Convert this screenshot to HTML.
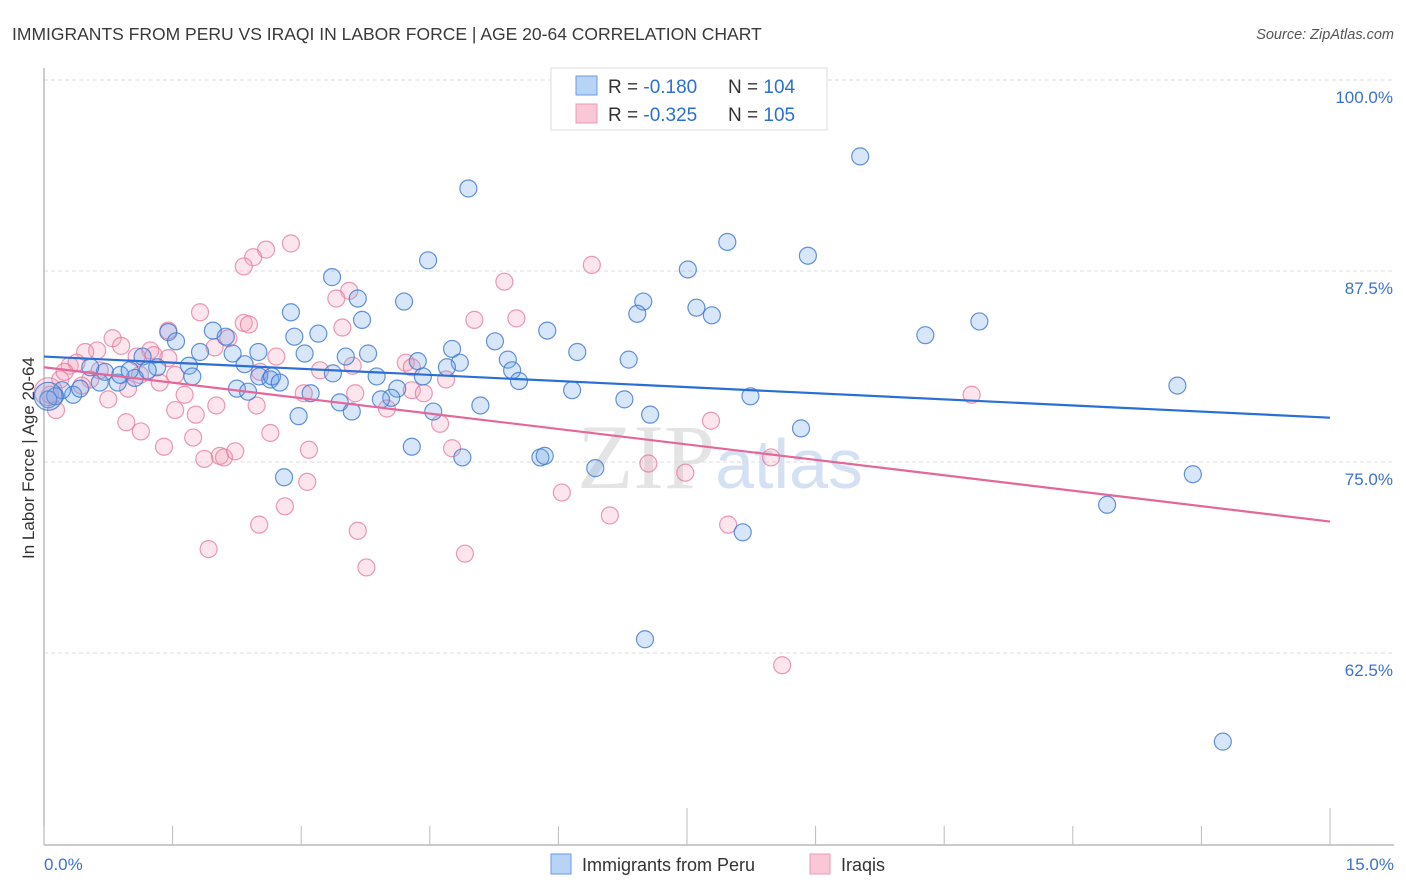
<!DOCTYPE html>
<html><head><meta charset="utf-8"><style>
body{margin:0;background:#fff;font-family:"Liberation Sans",sans-serif;}
#wrap{position:relative;width:1406px;height:892px;overflow:hidden;}
</style></head><body>
<div id="wrap">
<svg id="svg" width="1406" height="892" xmlns="http://www.w3.org/2000/svg">
<text x="12" y="40" font-size="17.5" fill="#3a3a3a">IMMIGRANTS FROM PERU VS IRAQI IN LABOR FORCE | AGE 20-64 CORRELATION CHART</text>
<text x="1394" y="39" font-size="14.5" fill="#555" font-style="italic" text-anchor="end">Source: ZipAtlas.com</text>
<text x="720" y="488" font-size="92" fill="#e4e4e4" text-anchor="middle" font-family="Liberation Serif,serif">ZIP<tspan fill="#d3e1f3" font-family="Liberation Sans,sans-serif" font-size="70">atlas</tspan></text>
<g id="grid"></g>
<line x1="44" y1="68" x2="44" y2="845" stroke="#aaa" stroke-width="1.2"/>
<line x1="44" y1="845" x2="1394" y2="845" stroke="#aaa" stroke-width="1.2"/>
<g id="xticks"></g>
<text x="34" y="458" font-size="17" fill="#333" text-anchor="middle" transform="rotate(-90 34 458)">In Labor Force | Age 20-64</text>
<g id="pts"></g>
<g id="lines"></g>
<text x="44" y="870" font-size="17" fill="#3b72d0">0.0%</text>
<text x="1394" y="870" font-size="17" fill="#3b72d0" text-anchor="end">15.0%</text>
<g>
<rect x="551" y="68" width="276" height="62" fill="#fff" stroke="#ddd"/>
<rect x="576" y="76" width="21" height="19" fill="#b7d3f5" stroke="#6b9be0"/>
<rect x="576" y="104" width="21" height="19" fill="#fac7d6" stroke="#e99ab4"/>
<text x="608" y="93" font-size="19" fill="#333">R = <tspan fill="#2a6fd6">-0.180</tspan><tspan x="728">N = </tspan><tspan fill="#2a6fd6">104</tspan></text>
<text x="608" y="121" font-size="19" fill="#333">R = <tspan fill="#2a6fd6">-0.325</tspan><tspan x="728">N = </tspan><tspan fill="#2a6fd6">105</tspan></text>
</g>
<g>
<rect x="551" y="854" width="20" height="20" fill="#b7d3f5" stroke="#6b9be0"/>
<text x="582" y="871" font-size="18" fill="#333">Immigrants from Peru</text>
<rect x="810" y="854" width="20" height="20" fill="#fac7d6" stroke="#e99ab4"/>
<text x="841" y="871" font-size="18" fill="#333">Iraqis</text>
</g>
</svg>
</div>
<script>
const yTicks=[100,87.5,75,62.5];
const yTickLabels=["100.0%","87.5%","75.0%","62.5%"];
const xTicks=[0,1.5,3,4.5,6,7.5,9,10.5,12,13.5,15];
const peruX=[9.52,4.95,7.97,8.91,4.48,7.51,3.36,6.99,4.20,3.66,2.88,7.61,6.92,7.79,10.91,10.28,3.71,1.97,5.87,3.20,2.92,1.45,2.12,5.26,1.54,4.76,6.22,3.78,6.82,2.50,3.04,3.52,5.41,4.85,4.36,4.70,5.46,1.82,1.69,1.15,2.20,1.32,2.34,5.54,3.88,4.42,13.22,6.16,2.51,2.64,2.25,2.38,3.11,4.12,4.05,3.93,6.77,8.24,5.09,3.45,3.59,4.54,7.07,2.97,8.83,4.29,4.88,5.79,5.84,6.43,13.40,2.80,12.40,8.15,7.01,13.75,1.73,1.06,0.86,0.71,0.54,0.34,0.21,0.13,0.05,0.42,0.65,0.89,1.00,1.21,2.66,2.75,3.37,0.05];
const peruY=[95.0,92.9,89.4,88.5,88.2,87.6,87.1,85.5,85.5,85.7,84.8,85.1,84.7,84.6,84.2,83.3,84.3,83.6,83.6,83.4,83.2,83.5,83.2,82.9,82.9,82.4,82.2,82.1,81.7,82.2,82.1,81.9,81.7,81.5,81.6,81.2,81.0,82.2,81.3,81.9,82.1,81.2,81.4,80.3,80.6,80.6,80.0,79.7,80.6,80.4,79.8,79.6,79.5,79.8,79.2,79.1,79.1,79.3,78.7,78.9,78.3,78.3,78.1,78.0,77.2,76.0,75.3,75.3,75.4,74.6,74.2,74.0,72.2,70.4,63.4,56.7,80.6,80.5,80.2,80.9,81.2,79.4,79.7,79.3,79.1,79.8,80.2,80.7,81.0,81.0,80.6,80.2,80.8,79.3];
const iraqX=[2.88,2.59,2.44,2.33,6.39,5.37,3.56,3.41,1.82,2.33,5.02,5.51,3.48,1.45,2.39,2.15,0.80,1.24,0.90,0.62,2.71,1.45,1.28,1.08,0.48,0.30,0.38,4.22,4.29,3.22,3.60,4.69,4.29,4.43,3.63,4.00,3.03,2.48,1.64,2.01,1.53,1.77,1.35,0.98,0.75,0.96,1.13,4.62,1.40,1.74,4.76,3.09,2.64,2.05,2.10,2.23,1.87,7.78,8.48,7.05,7.48,6.04,2.81,3.07,2.51,3.66,6.60,7.98,4.91,1.92,3.76,10.82,8.61,0.19,0.07,0.24,0.54,0.65,0.44,1.12,1.53,1.99,2.52,0.14,0.05];
const iraqY=[89.3,88.9,88.4,87.8,87.9,86.8,86.2,85.7,84.8,84.1,84.3,84.4,83.8,83.6,84.0,83.1,83.1,82.3,82.6,82.3,81.9,81.8,82.0,81.9,82.2,81.3,81.5,81.5,81.2,81.0,81.3,80.4,79.7,79.5,79.5,78.5,79.5,78.7,79.4,78.7,78.4,78.1,80.2,79.8,79.1,77.6,77.0,77.5,76.0,76.6,75.9,75.8,76.9,75.4,75.3,75.7,75.2,77.7,75.3,74.9,74.3,73.0,72.1,73.7,70.9,70.5,71.5,70.9,69.0,69.3,68.1,79.4,61.7,80.4,79.4,80.9,80.4,81.0,80.0,80.7,80.7,82.5,80.9,78.4,79.6];
const peruTrend=[81.9,77.9];
const iraqTrend=[81.2,71.1];
const trendX=[0,15];

const X0=44,X1=1330,Y100=80,PX_PER_PT=191/12.5;
function sx(v){return X0+(X1-X0)*v/15;}
function sy(v){return Y100+(100-v)*PX_PER_PT;}
const NS="http://www.w3.org/2000/svg";
function mk(t,a,p){const e=document.createElementNS(NS,t);for(const k in a)e.setAttribute(k,a[k]);p.appendChild(e);return e;}
const grid=document.getElementById('grid');
yTicks.forEach((t,i)=>{
  const l=mk('line',{x1:44,x2:1394,y1:sy(t),y2:sy(t),stroke:'#ddd','stroke-dasharray':'4,3'},grid);
  
  
  const tx=mk('text',{x:1393,y:sy(t)+23,'font-size':17,fill:'#3b72d0','text-anchor':'end'},grid);
  tx.textContent=yTickLabels[i];
  
  
});
const xt=document.getElementById('xticks');
xTicks.forEach((t,i)=>{
  const major=(i===5||i===10);
  const l=mk('line',{x1:sx(t),x2:sx(t),y1:major?808:826,y2:845,stroke:'#bbb'},xt);
  
  
});
const pts=document.getElementById('pts');
function draw(xs,ys,fill,stroke,name){
  xs.forEach((x,i)=>{
    const big=(i===xs.length-1);
    const c=mk('circle',{cx:sx(x),cy:sy(ys[i]),r:big?14:8.5,fill:fill,stroke:stroke,'stroke-width':1.2},pts);
    
    
  });
}
draw(iraqX,iraqY,'rgba(244,160,188,0.28)','rgba(230,120,155,0.75)','iraqi-point');
draw(peruX,peruY,'rgba(110,165,232,0.28)','rgba(60,120,210,0.8)','peru-point');
const lines=document.getElementById('lines');
const bl=mk('line',{x1:sx(trendX[0]),y1:sy(peruTrend[0]),x2:sx(trendX[1]),y2:sy(peruTrend[1]),stroke:'#2a6fd6','stroke-width':2.2},lines);


const pl=mk('line',{x1:sx(trendX[0]),y1:sy(iraqTrend[0]),x2:sx(trendX[1]),y2:sy(iraqTrend[1]),stroke:'#e4679a','stroke-width':2.2},lines);


</script>
</body></html>
